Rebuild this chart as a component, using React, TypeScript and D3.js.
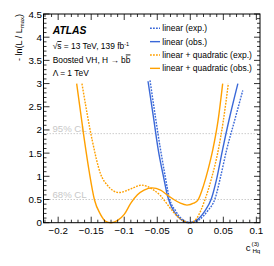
import React from 'react';
import * as d3 from 'd3';

// linear (exp.)
const linExpC = [-0.061, -0.053, -0.045, -0.038, -0.032, -0.022, -0.012, 0.001, 0.014, 0.026, 0.0375, 0.046, 0.055, 0.067, 0.0794];
const linExpNll = [3.07, 2.3, 1.57, 1.0, 0.55, 0.25, 0.07, 0, 0.07, 0.25, 0.52, 1.0, 1.57, 2.2, 2.85];

// linear (obs.)
const linObsC = [-0.064, -0.056, -0.0485, -0.04, -0.034, -0.025, -0.015, -0.002, 0.012, 0.022, 0.032, 0.04, 0.0488, 0.06, 0.072];
const linObsNll = [3.05, 2.3, 1.57, 0.95, 0.55, 0.25, 0.08, 0, 0.08, 0.25, 0.52, 0.95, 1.57, 2.3, 3.0];

// linear + quadratic (exp.)
const quadExpC = [-0.164, -0.1485, -0.136, -0.125, -0.108, -0.095, -0.085, -0.074, -0.065, -0.055, -0.045, -0.035, -0.025, -0.015, 0, 0.01, 0.022, 0.032, 0.0424, 0.05, 0.0576];
const quadExpNll = [3.0, 1.78, 1.06, 0.8, 0.65, 0.7, 0.76, 0.81, 0.78, 0.7, 0.58, 0.4, 0.22, 0.08, 0, 0.1, 0.49, 0.95, 1.57, 2.2, 3.0];

// linear + quadratic (obs.)
const quadObsC = [-0.172, -0.161, -0.153, -0.145, -0.136, -0.128, -0.12, -0.11, -0.1, -0.09, -0.08, -0.07, -0.058, -0.045, -0.035, -0.025, -0.015, -0.005, 0.005, 0.012, 0.02, 0.027, 0.034, 0.042, 0.049];
const quadObsNll = [3.0, 1.85, 1.1, 0.49, 0.18, 0.03, 0, 0.05, 0.18, 0.42, 0.6, 0.7, 0.75, 0.7, 0.6, 0.5, 0.42, 0.38, 0.42, 0.5, 0.8, 1.15, 1.57, 2.2, 3.0];

const xTicks = [-0.2, -0.15, -0.1, -0.05, 0, 0.05, 0.1];
const yTicks = [0, 0.5, 1, 1.5, 2, 2.5, 3, 3.5, 4, 4.5];
const clLevels = [
  { label: '95% CL', value: 1.92 },
  { label: '68% CL', value: 0.5 },
];
const legendLabels = ['linear (exp.)', 'linear (obs.)', 'linear + quadratic (exp.)', 'linear + quadratic (obs.)'];

const BLUE = '#3a68d8';
const ORANGE = '#ffa000';
const FONT = 'Liberation Sans, Arial, sans-serif';

export default function App() {
  const width = 274;
  const height = 266;
  const left = 43.5, right = 260, top = 14, bottom = 222.7;

  const x = d3.scaleLinear().domain([-0.2222, 0.1055]).range([left, right]);
  const y = d3.scaleLinear().domain([0, 4.5]).range([bottom, top]);

  const line = d3
    .line<[number, number]>()
    .x(d => x(d[0]))
    .y(d => y(d[1]))
    .curve(d3.curveMonotoneX);

  const zip = (c: number[], v: number[]) => c.map((d, i) => [d, v[i]] as [number, number]);

  const series = [
    { data: zip(linExpC, linExpNll), color: BLUE, dash: '1.8,1.2' },
    { data: zip(linObsC, linObsNll), color: BLUE, dash: null },
    { data: zip(quadExpC, quadExpNll), color: ORANGE, dash: '1.8,1.2' },
    { data: zip(quadObsC, quadObsNll), color: ORANGE, dash: null },
  ];

  const xMinor = d3.range(-0.22, 0.1001, 0.01).map(v => +v.toFixed(3));
  const yMinor = d3.range(0, 4.5001, 0.1).map(v => +v.toFixed(2));

  return (
    <svg
      width={width}
      height={height}
      style={{ position: 'absolute', left: 0, top: 0, background: '#fff' }}
      fontFamily={FONT}
    >
      {/* CL lines */}
      {clLevels.map(cl => (
        <g key={cl.label}>
          <line x1={left} x2={right} y1={y(cl.value)} y2={y(cl.value)} stroke="#cccccc" strokeWidth={1} strokeDasharray="1.5,1.5" />
          <text x={52.5} y={y(cl.value) - 2} fontSize={9.6} fill="#c8c8c8">{cl.label}</text>
        </g>
      ))}

      {/* curves */}
      <g fill="none">
        {series.map((s, i) => (
          <path key={i} d={line(s.data) || ''} stroke={s.color} strokeWidth={1.4} strokeDasharray={s.dash || undefined} />
        ))}
      </g>

      {/* ticks */}
      <g stroke="#000" strokeWidth={0.8}>
        {xMinor.map(v => {
          const major = xTicks.some(t => Math.abs(t - v) < 1e-6);
          const len = major ? 6 : 3;
          return (
            <g key={'x' + v}>
              <line x1={x(v)} x2={x(v)} y1={bottom} y2={bottom - len} />
              <line x1={x(v)} x2={x(v)} y1={top} y2={top + len} />
            </g>
          );
        })}
        {yMinor.map(v => {
          const major = yTicks.some(t => Math.abs(t - v) < 1e-6);
          const len = major ? 6 : 3;
          return (
            <g key={'y' + v}>
              <line x1={left} x2={left + len} y1={y(v)} y2={y(v)} />
              <line x1={right} x2={right - len} y1={y(v)} y2={y(v)} />
            </g>
          );
        })}
      </g>

      {/* frame */}
      <rect x={left} y={top} width={right - left} height={bottom - top} fill="none" stroke="#000" strokeWidth={1} />

      {/* tick labels */}
      <g fontSize={9.8} fill="#000">
        {xTicks.map(t => (
          <text key={t} x={x(t)} y={234} textAnchor="middle">{t === 0 ? '0' : String(t).replace('-', '\u2212')}</text>
        ))}
        {yTicks.map(t => (
          <text key={t} x={42} y={y(t) + 3.5} textAnchor="end">{String(t)}</text>
        ))}
      </g>

      {/* axis titles */}
      <g fill="#000">
        <text x={245.8} y={250.7} fontSize={9.6}>c</text>
        <text x={251.6} y={246.3} fontSize={6.2}>(3)</text>
        <text x={252.4} y={252.5} fontSize={6.2}>Hq</text>
      </g>
      <text transform="translate(21.5,14) rotate(-90)" textAnchor="end" fontSize={9}>
        - ln(L / L<tspan fontSize={6} dy={2.5}>max</tspan><tspan dy={-2.5}>)</tspan>
      </text>

      {/* labels */}
      <g fill="#000">
        <text x={52.7} y={33.8} fontSize={10.4} fontWeight="bold" fontStyle="italic">ATLAS</text>
        <text x={52.7} y={49} fontSize={8.4}>
          √<tspan textDecoration="overline" style={{ textDecoration: 'overline' }}>s</tspan> = 13 TeV, 139 fb<tspan fontSize={5.6} dy={-3.5}>-1</tspan>
        </text>
        <text x={52.7} y={62.5} fontSize={8.4}>
          Boosted VH, H → b<tspan style={{ textDecoration: 'overline' }}>b</tspan>
        </text>
        <text x={52.7} y={75.5} fontSize={8.4}>Λ = 1 TeV</text>
      </g>

      {/* legend */}
      <g>
        {legendLabels.map((lab, i) => {
          const cy = 28.3 + i * 13.35;
          const s = series[i];
          return (
            <g key={lab}>
              <line x1={150} x2={160} y1={cy} y2={cy} stroke={s.color} strokeWidth={1.4} strokeDasharray={s.dash || undefined} />
              <text x={162.3} y={cy + 3} fontSize={8.5} fill="#000">{lab}</text>
            </g>
          );
        })}
      </g>
    </svg>
  );
}
